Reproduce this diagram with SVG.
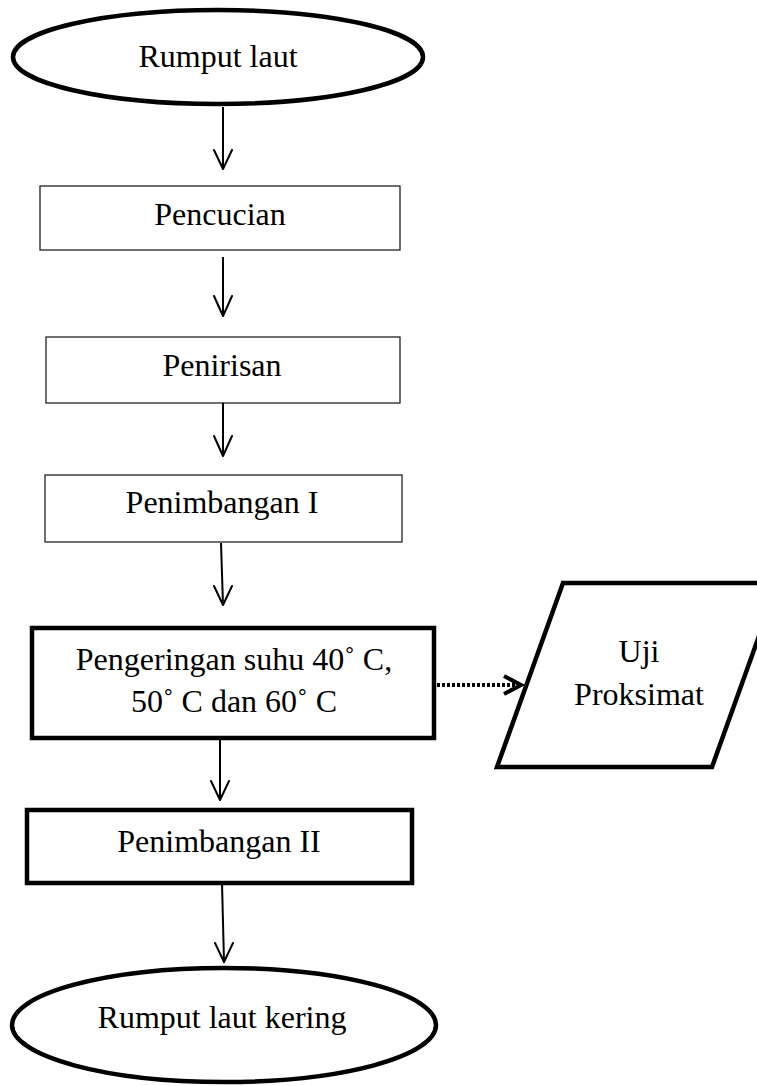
<svg xmlns="http://www.w3.org/2000/svg" width="757" height="1086" viewBox="0 0 757 1086">
<defs>
<style>
.t{font-family:"Liberation Serif","Times New Roman",serif;font-size:32px;fill:#000;text-anchor:middle}
.thin{fill:#fff;stroke:#222;stroke-width:1.3}
.thick{fill:#fff;stroke:#000;stroke-width:4.5}
.ln{fill:none;stroke:#000;stroke-width:2}
.hd{fill:none;stroke:#000;stroke-width:2;stroke-linecap:round;stroke-linejoin:round}
</style>
</defs>
<rect width="757" height="1086" fill="#fff"/>
<g id="n1"><ellipse class="thick" cx="218" cy="57" rx="205" ry="47"/><text class="t" x="218" y="67">Rumput laut</text></g>
<g id="n2"><rect class="thin" x="40" y="186" width="360" height="64"/><text class="t" x="220" y="225">Pencucian</text></g>
<g id="n3"><rect class="thin" x="46" y="337" width="354" height="66"/><text class="t" x="222" y="376">Penirisan</text></g>
<g id="n4"><rect class="thin" x="45" y="475" width="357" height="67"/><text class="t" x="222" y="513">Penimbangan I</text></g>
<g id="n5"><rect class="thick" x="32" y="628" width="402" height="110"/><text class="t" x="234" y="670">Pengeringan suhu 40˚ C,</text><text class="t" x="234" y="712">50˚ C dan 60˚ C</text></g>
<g id="n6"><polygon class="thick" points="563,583 778,583 712,767 497,767"/><text class="t" x="639" y="662">Uji</text><text class="t" x="639" y="705">Proksimat</text></g>
<g id="n7"><rect class="thick" x="27" y="810" width="385" height="73"/><text class="t" x="219" y="852">Penimbangan II</text></g>
<g id="n8"><ellipse class="thick" cx="224" cy="1025" rx="212" ry="57"/><text class="t" x="222" y="1028">Rumput laut kering</text></g>
<g id="connectors">
<line class="ln" x1="223" y1="107" x2="223" y2="169"/><polyline class="hd" points="214,150 223,169 232,150"/>
<line class="ln" x1="223" y1="257" x2="223" y2="316"/><polyline class="hd" points="214,296 223,316 232,296"/>
<line class="ln" x1="223" y1="403" x2="223" y2="456"/><polyline class="hd" points="214,436 223,456 232,436"/>
<line class="ln" x1="221" y1="543" x2="223" y2="605"/><polyline class="hd" points="214,586 223,605 232,586"/>
<line class="ln" x1="220" y1="740" x2="220" y2="800"/><polyline class="hd" points="211,781 220,800 229,781"/>
<line class="ln" x1="222" y1="883" x2="224" y2="962"/><polyline class="hd" points="215,943 224,962 233,943"/>
<line x1="437" y1="685" x2="518" y2="685" stroke="#000" stroke-width="4" stroke-dasharray="3,2"/>
<polyline points="504,676 521,685 504,694" fill="none" stroke="#000" stroke-width="4" stroke-linejoin="miter"/>
</g>
</svg>
